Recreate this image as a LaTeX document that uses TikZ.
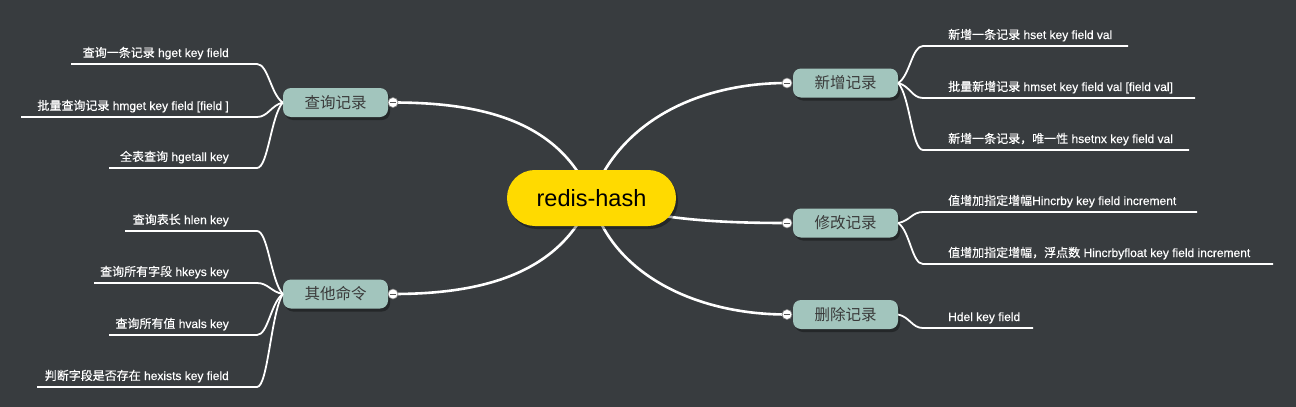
\documentclass[tikz,border=0pt]{standalone}
\usepackage{fontspec}
\setmainfont{Liberation Sans}
\newfontfamily\cjk{Noto Sans CJK SC}
\newfontfamily\leaflatin{Liberation Sans}[FakeBold=0.35]
\newfontfamily\leafcjk{Noto Sans CJK SC}[FakeBold=0.35]
\usetikzlibrary{shadows,calc}
\definecolor{bgc}{HTML}{383C3F}
\definecolor{ctr}{HTML}{FFDA00}
\definecolor{brc}{HTML}{A2C5BD}
\definecolor{brtext}{HTML}{3A3A3A}
\definecolor{tgline}{HTML}{555555}
\pgfdeclarelayer{back}
\pgfdeclarelayer{edges}
\pgfsetlayers{back,edges,main}
\newcommand{\zh}[1]{{\leafcjk #1}}
\begin{document}
\begin{tikzpicture}[x=1pt,y=-1pt,
  rootbox/.style={rounded corners=27.9pt, fill=ctr, minimum width=169pt, minimum height=56pt,
    inner sep=0pt, text=black, font=\fontsize{23.5}{26}\selectfont,
    drop shadow={shadow xshift=2pt, shadow yshift=-3pt, fill=black, opacity=0.35}},
  branchbox/.style={rounded corners=8pt, fill=brc, minimum width=105pt, minimum height=29pt,
    inner sep=0pt, text=brtext, font=\cjk\fontsize{15.5}{17}\selectfont,
    drop shadow={shadow xshift=2pt, shadow yshift=-3pt, fill=black, opacity=0.35}},
  leaftext/.style={inner sep=0pt, text=white, font=\leaflatin\fontsize{12}{14}\selectfont},
  mainline/.style={draw=white, line width=2.6pt},
  leafline/.style={draw=white, line width=1.8pt},
  toggle/.style={circle, fill=white, draw=gray, line width=0.6pt, minimum size=10pt, inner sep=0pt},
  minus/.style={draw=tgline, line width=0.9pt}
]
\begin{pgfonlayer}{back}
  \fill[bgc] (0,0) rectangle (1296,407);
\end{pgfonlayer}
\useasboundingbox (0,0) rectangle (1296,407);

% root and branches
\node[rootbox] (root) at (591.5,198) {redis-hash};
\node[branchbox] (q) at (335.5,102.5) {查询记录};
\node[branchbox] (o) at (335.5,294) {其他命令};
\node[branchbox] (n) at (845.5,83) {新增记录};
\node[branchbox] (m) at (845.5,223) {修改记录};
\node[branchbox] (d) at (845.5,314.5) {删除记录};

% toggles
\node[toggle] (qt) at (393,102.5) {};
\node[toggle] (ot) at (393,294) {};
\node[toggle] (nt) at (787,83) {};
\node[toggle] (mt) at (787,223) {};
\node[toggle] (dt) at (787,314.5) {};
\foreach \t in {qt,ot,nt,mt,dt}{
  \draw[minus] ([xshift=-3pt]\t.center) -- ([xshift=3pt]\t.center);
}

% main connectors
\begin{pgfonlayer}{edges}
  \draw[mainline] (root.center) .. controls (560,120) and (480,102.5) .. (qt.center);
  \draw[mainline] (root.center) .. controls (560,275) and (480,294) .. (ot.center);
  \draw[mainline] (root.center) .. controls (620,120) and (700,83) .. (nt.center);
  \draw[mainline] (root.center) .. controls (650,220) and (720,223) .. (mt.center);
  \draw[mainline] (root.center) .. controls (610,270) and (690,314.5) .. (dt.center);
\end{pgfonlayer}

% left leaves: query
\node[leaftext, anchor=base east] (q1) at (229,57) {\zh{查询一条记录} hget key field};
\node[leaftext, anchor=base east] (q2) at (229,110) {\zh{批量查询记录} hmget key field [field ]};
\node[leaftext, anchor=base east] (q3) at (229,161) {\zh{全表查询} hgetall key};
\coordinate (q1a) at (71,64);  \coordinate (q1b) at (257,64);
\coordinate (q2a) at (21,117); \coordinate (q2b) at (257,117);
\coordinate (q3a) at (109,168); \coordinate (q3b) at (257,168);
\draw[leafline] (q1a) -- (q1b) .. controls (268,64) and (271,94.8) .. (q.west);
\draw[leafline] (q2a) -- (q2b) .. controls (268,117) and (271,105.4) .. (q.west);
\draw[leafline] (q3a) -- (q3b) .. controls (268,168) and (271,115.6) .. (q.west);

% left leaves: other
\node[leaftext, anchor=base east] (o1) at (229,224) {\zh{查询表长} hlen key};
\node[leaftext, anchor=base east] (o2) at (229,276) {\zh{查询所有字段} hkeys key};
\node[leaftext, anchor=base east] (o3) at (229,328) {\zh{查询所有值} hvals key};
\node[leaftext, anchor=base east] (o4) at (229,380) {\zh{判断字段是否存在} hexists key field};
\coordinate (o1a) at (125,231); \coordinate (o1b) at (257,231);
\coordinate (o2a) at (94,283);  \coordinate (o2b) at (257,283);
\coordinate (o3a) at (109,335); \coordinate (o3b) at (257,335);
\coordinate (o4a) at (37,387);  \coordinate (o4b) at (257,387);
\draw[leafline] (o1a) -- (o1b) .. controls (268,231) and (271,281.4) .. (o.west);
\draw[leafline] (o2a) -- (o2b) .. controls (268,283) and (271,291.8) .. (o.west);
\draw[leafline] (o3a) -- (o3b) .. controls (268,335) and (271,302.2) .. (o.west);
\draw[leafline] (o4a) -- (o4b) .. controls (268,387) and (271,312.6) .. (o.west);

% right leaves: add
\node[leaftext, anchor=base west] (n1) at (948,39) {\zh{新增一条记录} hset key field val};
\node[leaftext, anchor=base west] (n2) at (948,91) {\zh{批量新增记录} hmset key field val [field val]};
\node[leaftext, anchor=base west] (n3) at (948,143) {\zh{新增一条记录，唯一性} hsetnx key field val};
\coordinate (n1a) at (923,46);  \coordinate (n1b) at (1128,46);
\coordinate (n2a) at (923,98);  \coordinate (n2b) at (1195,98);
\coordinate (n3a) at (923,150); \coordinate (n3b) at (1189,150);
\draw[leafline] (n.east) .. controls (910,75.6) and (912,46) .. (n1a) -- (n1b);
\draw[leafline] (n.east) .. controls (910,86) and (912,98) .. (n2a) -- (n2b);
\draw[leafline] (n.east) .. controls (910,96.4) and (912,150) .. (n3a) -- (n3b);

% right leaves: modify
\node[leaftext, anchor=base west] (m1) at (948,205) {\zh{值增加指定增幅}Hincrby key field increment};
\node[leaftext, anchor=base west] (m2) at (948,257) {\zh{值增加指定增幅，浮点数} Hincrbyfloat key field increment};
\coordinate (m1a) at (923,212); \coordinate (m1b) at (1197,212);
\coordinate (m2a) at (923,264); \coordinate (m2b) at (1273,264);
\draw[leafline] (m.east) .. controls (910,220.8) and (912,212) .. (m1a) -- (m1b);
\draw[leafline] (m.east) .. controls (910,231.2) and (912,264) .. (m2a) -- (m2b);

% right leaves: delete
\node[leaftext, anchor=base west] (d1) at (948,321) {Hdel key field};
\coordinate (d1a) at (923,328); \coordinate (d1b) at (1033,328);
\draw[leafline] (d.east) .. controls (910,317.2) and (912,328) .. (d1a) -- (d1b);
\end{tikzpicture}
\end{document}
